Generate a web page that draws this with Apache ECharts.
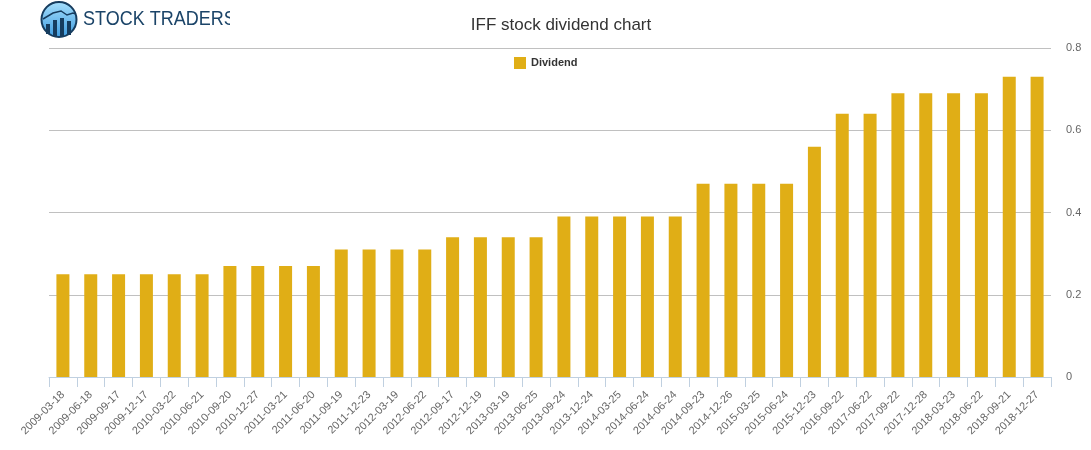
<!DOCTYPE html>
<html>
<head>
<meta charset="utf-8">
<script src="https://cdn.jsdelivr.net/npm/echarts@6/dist/echarts.min.js"></script>
<style>
    html, body { margin: 0; padding: 0; background: #fff; }
    #chart { width: 1091px; height: 450px; }
</style>
</head>
<body>
<div id="chart"></div>
<script>
// dividend dates (x axis)
const dates = [
    "2009-03-18", "2009-06-18", "2009-09-17", "2009-12-17", "2010-03-22", "2010-06-21",
    "2010-09-20", "2010-12-27", "2011-03-21", "2011-06-20", "2011-09-19", "2011-12-23",
    "2012-03-19", "2012-06-22", "2012-09-17", "2012-12-19", "2013-03-19", "2013-06-25",
    "2013-09-24", "2013-12-24", "2014-03-25", "2014-06-24", "2014-06-24", "2014-09-23",
    "2014-12-26", "2015-03-25", "2015-06-24", "2015-12-23", "2016-09-22", "2017-06-22",
    "2017-09-22", "2017-12-28", "2018-03-23", "2018-06-22", "2018-09-21", "2018-12-27"
];
// dividend per share
const dividends = [
    0.25, 0.25, 0.25, 0.25, 0.25, 0.25,
    0.27, 0.27, 0.27, 0.27, 0.31, 0.31,
    0.31, 0.31, 0.34, 0.34, 0.34, 0.34,
    0.39, 0.39, 0.39, 0.39, 0.39, 0.47,
    0.47, 0.47, 0.47, 0.56, 0.64, 0.64,
    0.69, 0.69, 0.69, 0.69, 0.73, 0.73
];
const yTicks = [0, 0.2, 0.4, 0.6, 0.8];

const fontFam = '"Liberation Sans", Arial, Helvetica, sans-serif';
const chart = echarts.init(document.getElementById("chart"));

const option = {
    animation: false,
    textStyle: { fontFamily: fontFam },
    title: {
        text: "IFF stock dividend chart",
        left: 556,
        textAlign: "center",
        top: 12,
        textStyle: { color: "#333", fontSize: 17, fontWeight: "normal", fontFamily: fontFam }
    },
    legend: {
        left: 509,
        top: 52,
        itemWidth: 12,
        itemHeight: 12,
        itemGap: 8,
        icon: "rect",
        textStyle: { color: "#333", fontSize: 11, fontWeight: "bold", fontFamily: fontFam },
        data: ["Dividend"]
    },
    grid: { left: 49, right: 40, top: 48, bottom: 73 },
    xAxis: {
        type: "category",
        data: dates,
        axisLine: { lineStyle: { color: "#c0d0e0" } },
        axisTick: { show: true, length: 10, lineStyle: { color: "#c0d0e0" } },
        axisLabel: { rotate: 45, interval: 0, color: "#666", fontSize: 11, margin: 16, fontFamily: fontFam }
    },
    yAxis: {
        type: "value",
        position: "right",
        min: yTicks[0],
        max: yTicks[yTicks.length - 1],
        interval: 0.2,
        axisLine: { show: false },
        axisTick: { show: false },
        splitLine: { lineStyle: { color: "#c0c0c0" } },
        axisLabel: { color: "#666", fontSize: 11, margin: 15, fontFamily: fontFam }
    },
    series: [{
        name: "Dividend",
        type: "bar",
        data: dividends,
        barWidth: 13,
        itemStyle: { color: "#e0ae16" }
    }],
    graphic: [
        // logo
        {
            type: "circle",
            shape: { cx: 59, cy: 19.5, r: 17.5 },
            style: {
                fill: new echarts.graphic.LinearGradient(0, 0, 0, 1, [
                    { offset: 0, color: "#a8e0fc" },
                    { offset: 1, color: "#3d9be0" }
                ]),
                stroke: "#163c5e",
                lineWidth: 2
            }
        },
        { type: "rect", shape: { x: 46, y: 24, width: 4, height: 10 }, style: { fill: "#163c5e" } },
        { type: "rect", shape: { x: 53, y: 20, width: 4, height: 16 }, style: { fill: "#163c5e" } },
        { type: "rect", shape: { x: 60, y: 18, width: 4, height: 19 }, style: { fill: "#163c5e" } },
        { type: "rect", shape: { x: 67, y: 21, width: 4, height: 14 }, style: { fill: "#163c5e" } },
        {
            type: "polyline",
            shape: { points: [[43, 19], [53, 13], [61, 11], [67, 15], [73, 13], [76, 14]] },
            style: { stroke: "#163c5e", lineWidth: 1.5, fill: null }
        },
        {
            type: "text",
            x: 83,
            y: 9,
            scaleX: 0.9,
            style: { text: "STOCK TRADERS", fill: "#1b4468", fontSize: 20, fontFamily: fontFam }
        },
        { type: "rect", shape: { x: 230, y: 4, width: 60, height: 34 }, style: { fill: "#fff" } }
    ]
};

chart.setOption(option);
</script>
</body>
</html>
